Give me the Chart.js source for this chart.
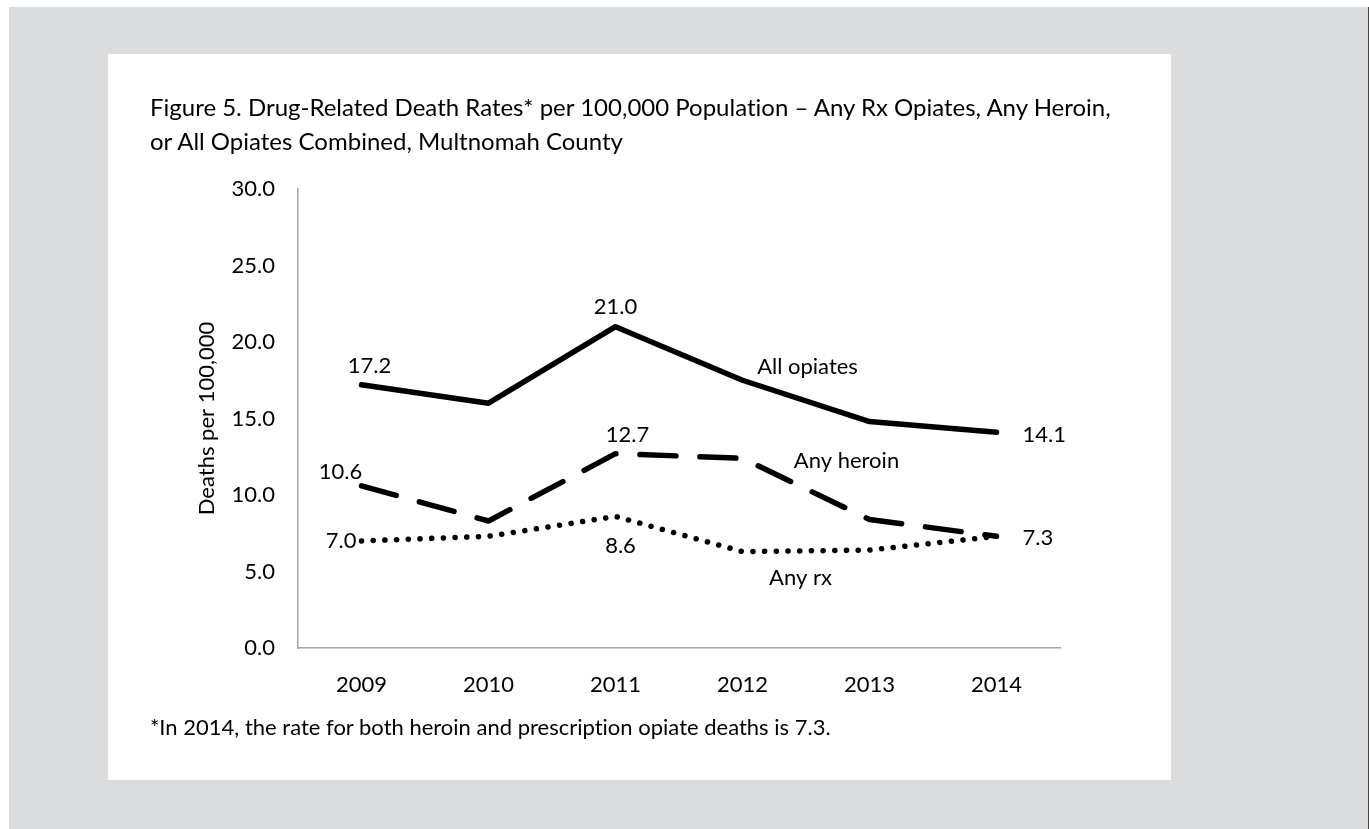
<!doctype html>
<html>

<head>
	<title>Drug-Related Death Rates, Multnomah County</title>
	<script src="https://cdn.jsdelivr.net/npm/chart.js@4.4.0/dist/chart.umd.min.js"></script>
	<style>
		body { margin: 0; background: #fff; font-family: Lato, 'Open Sans', sans-serif; font-variant-ligatures: none; }
		#backdrop { position: absolute; left: 9px; top: 7px; width: 1359px; height: 822px; background: #dbdcdd; border-right: 1px solid #444; }
		#panel { position: absolute; left: 108px; top: 54px; width: 1063px; height: 726px; background: #fff; }
		#title { position: absolute; left: 42px; top: 36px; font-size: 24px; line-height: 34px; color: #000; }
		#note { position: absolute; left: 42px; top: 659px; font-size: 22px; color: #000; }
		#chart-area { position: absolute; left: 0; top: 0; }
	</style>
</head>

<body>
	<div id="backdrop"></div>
	<div id="panel">
		<canvas id="chart-area" width="1063" height="726"></canvas>
		<div id="title">Figure 5. Drug-Related Death Rates* per 100,000 Population – Any Rx Opiates, Any Heroin,<br>or All Opiates Combined, Multnomah County</div>
		<div id="note">*In 2014, the rate for both heroin and prescription opiate deaths is 7.3.</div>
	</div>

	<script>
		// values
		const years = ['2009', '2010', '2011', '2012', '2013', '2014'];
		const allOpiates = [17.2, 16.0, 21.0, 17.5, 14.8, 14.1];
		const anyHeroin = [10.6, 8.3, 12.7, 12.4, 8.4, 7.3];
		const anyRx = [7.0, 7.3, 8.6, 6.3, 6.4, 7.3];

		// text placed next to points: dataset, point index, offset, alignment
		// name: true -> prints the series name instead of the value
		const callouts = [
			{ ds: 0, i: 0, dx: 8, dy: -19, align: 'center' },
			{ ds: 0, i: 2, dx: 0, dy: -20, align: 'center' },
			{ ds: 0, i: 3, dx: 65, dy: -13, align: 'center', name: true },
			{ ds: 0, i: 5, dx: 26, dy: 3, align: 'left' },
			{ ds: 1, i: 0, dx: -21, dy: -14, align: 'center' },
			{ ds: 1, i: 2, dx: 12, dy: -19, align: 'center' },
			{ ds: 1, i: 3, dx: 104, dy: 3, align: 'center', name: true },
			{ ds: 1, i: 5, dx: 26, dy: 2, align: 'left' },
			{ ds: 2, i: 0, dx: -5, dy: 0, align: 'right' },
			{ ds: 2, i: 2, dx: 5, dy: 29, align: 'center' },
			{ ds: 2, i: 3, dx: 58, dy: 26, align: 'center', name: true }
		];

		const calloutPlugin = {
			id: 'callouts',
			afterDatasetsDraw(chart) {
				const ctx = chart.ctx;
				ctx.save();
				ctx.font = '22px Lato';
				ctx.fillStyle = '#000';
				ctx.textBaseline = 'middle';
				callouts.forEach(c => {
					const ds = chart.data.datasets[c.ds];
					const pt = chart.getDatasetMeta(c.ds).data[c.i];
					const text = c.name ? ds.label : ds.data[c.i].toFixed(1);
					ctx.textAlign = c.align;
					ctx.fillText(text, pt.x + c.dx, pt.y + c.dy);
				});
				ctx.restore();
			}
		};

		const ctx2d = document.getElementById('chart-area').getContext('2d');
		window.myLine = new Chart(ctx2d, {
			type: 'line',
			data: {
				labels: years,
				datasets: [{
					label: 'All opiates',
					data: allOpiates,
					borderColor: '#000',
					borderWidth: 5.5,
					borderCapStyle: 'round',
					borderJoinStyle: 'round'
				}, {
					label: 'Any heroin',
					data: anyHeroin,
					borderColor: '#000',
					borderWidth: 5.5,
					borderDash: [36, 24],
					borderCapStyle: 'round',
					borderJoinStyle: 'round'
				}, {
					label: 'Any rx',
					data: anyRx,
					borderColor: '#000',
					borderWidth: 5.5,
					borderDash: [0.1, 11.6],
					borderCapStyle: 'round',
					borderJoinStyle: 'round'
				}]
			},
			plugins: [calloutPlugin],
			options: {
				responsive: false,
				animation: false,
				elements: {
					point: { radius: 0, hoverRadius: 0 },
					line: { tension: 0, fill: false }
				},
				layout: {
					padding: { left: 82, top: 135, right: 111, bottom: 72 }
				},
				plugins: {
					legend: { display: false },
					tooltip: { enabled: false }
				},
				scales: {
					x: {
						offset: true,
						grid: { display: false, drawTicks: false },
						border: { display: true, color: '#a6a6a6', width: 1.5 },
						ticks: { color: '#000', padding: 24, font: { family: 'Lato', size: 22 } },
						afterFit(scale) { scale.height = 60; }
					},
					y: {
						min: 0,
						max: 30,
						grid: { display: false, drawTicks: false },
						border: { display: true, color: '#a6a6a6', width: 1.5 },
						ticks: {
							stepSize: 5,
							color: '#000',
							padding: 23,
							font: { family: 'Lato', size: 22 },
							callback: v => v.toFixed(1)
						},
						title: {
							display: true,
							text: 'Deaths per 100,000',
							color: '#000',
							font: { family: 'Lato', size: 22 },
							padding: { top: 4, bottom: 0 }
						},
						afterFit(scale) { scale.width = 108; }
					}
				}
			}
		});
	</script>
</body>

</html>
